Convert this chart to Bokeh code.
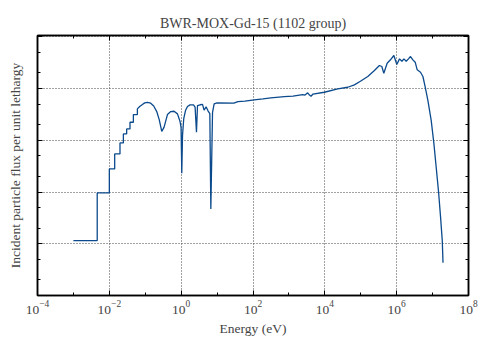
from bokeh.plotting import figure
from bokeh.models import Range1d, FixedTicker, LogAxis, CustomJSTickFormatter
from bokeh.embed import file_html
from bokeh.resources import INLINE

# ---- data (energy in eV, flux per unit lethargy, arbitrary units) ----
step_edges = [1.0e-3, 4.6e-3, 1.0e-2, 1.41e-2, 1.98e-2, 2.46e-2, 3.04e-2, 3.76e-2, 4.67e-2, 6.04e-2]
step_flux = [1.15e-3, 9.6e-3, 2.8e-2, 5.46e-2, 8.9e-2, 0.133, 0.166, 0.223, 0.314]

energy = [6.04e-2, 7.00e-2, 8.33e-2, 9.66e-2, 0.115, 0.142, 0.172, 0.209, 0.245, 0.288,
          0.333, 0.415, 0.513, 0.634, 0.789, 0.931, 0.993, 1.04, 1.09, 1.18,
          1.32, 1.50, 1.77, 2.20, 2.44, 2.67, 2.85, 3.37, 3.93, 4.35,
          4.95, 5.63, 6.28, 6.70, 7.47, 8.28, 10.0, 29.3, 37.9, 59.4,
          108, 189, 315, 741, 1297, 2416, 2805, 3334, 3740, 4121,
          4688, 9683, 22900, 43500, 66500, 97800, 1.57e5, 2.40e5, 3.31e5, 3.86e5,
          4.39e5, 5.43e5, 6.71e5, 8.35e5, 1.01e6, 1.20e6, 1.40e6, 1.59e6, 1.84e6, 2.13e6,
          2.43e6, 2.83e6, 3.28e6, 3.73e6, 4.61e6, 5.38e6, 6.24e6, 7.42e6, 9.17e6, 1.09e7,
          1.26e7, 1.47e7, 1.67e7, 1.86e7, 1.95e7, 2.0e7]
flux = [0.405, 0.449, 0.49, 0.529, 0.543, 0.520, 0.459, 0.359, 0.251, 0.149,
        0.178, 0.314, 0.359, 0.364, 0.324, 0.230, 0.178, 0.0230, 0.123, 0.263,
        0.375, 0.449, 0.484, 0.484, 0.439, 0.143, 0.469, 0.486, 0.495, 0.384,
        0.443, 0.367, 0.328, 0.00471, 0.348, 0.506, 0.529, 0.524, 0.561, 0.573,
        0.604, 0.632, 0.661, 0.700, 0.716, 0.766, 0.749, 0.826, 0.749, 0.710,
        0.783, 0.848, 0.987, 1.06, 1.18, 1.38, 1.71, 2.23, 2.79, 2.67,
        1.98, 3.09, 3.59, 4.35, 2.91, 3.75, 3.37, 3.75, 3.37, 3.75,
        4.16, 3.59, 3.23, 2.30, 2.07, 1.71, 1.06, 0.586, 0.240, 0.0851,
        0.0301, 0.00987, 0.00324, 0.00115, 4.37e-4, 4.37e-4]

x_major = [1e-4, 1e-2, 1e0, 1e2, 1e4, 1e6, 1e8]
x_minor = [1e-3, 1e-1, 1e1, 1e3, 1e5, 1e7]
y_major = [1e-4, 1e-3, 1e-2, 1e-1, 1e0, 1e1]
y_minor = [2e-4, 5e-4, 2e-3, 5e-3, 2e-2, 5e-2, 0.2, 0.5, 2, 5]

title_text = "BWR-MOX-Gd-15 (1102 group)"
x_label = "Energy (eV)"
y_label = "Incident particle flux per unit lethargy"

# build path: histogram steps at low energy, then the fine-group curve
xs, ys = [], []
for i, f in enumerate(step_flux):
    xs += [step_edges[i], step_edges[i + 1]]
    ys += [f, f]
xs += energy
ys += flux

FONT = "Liberation Serif"
FS = "13.5px"

p = figure(width=478, height=340, x_axis_type="log", y_axis_type="log",
           x_range=Range1d(1e-4, 1e8), y_range=Range1d(1e-4, 10.6),
           output_backend="svg", toolbar_location=None,
           min_border_left=37, min_border_right=10, min_border_top=35, min_border_bottom=45)

p.title.text = title_text
p.title.text_font = FONT
p.title.text_font_size = "14px"
p.title.text_font_style = "normal"
p.title.align = "center"

p.outline_line_color = "black"
p.outline_line_width = 1.5
p.background_fill_color = "white"
p.border_fill_color = "white"

empty = CustomJSTickFormatter(code="return ''")

xa = p.xaxis[0]
xa.ticker = FixedTicker(ticks=x_major, minor_ticks=x_minor)
ya = p.yaxis[0]
ya.ticker = FixedTicker(ticks=y_major, minor_ticks=y_minor)
ya.formatter = empty

for ax in (xa, ya):
    ax.major_tick_in = 5
    ax.major_tick_out = 0
    ax.minor_tick_in = 3
    ax.minor_tick_out = 0
    ax.axis_line_width = 1.5
    ax.major_tick_line_width = 1
    ax.minor_tick_line_width = 1
    ax.major_label_text_font = FONT
    ax.major_label_text_font_size = FS
    ax.axis_label_text_font = FONT
    ax.axis_label_text_font_size = FS
    ax.axis_label_text_font_style = "normal"

xa.axis_label = x_label
xa.major_label_standoff = 5
xa.axis_label_standoff = 4
ya.axis_label = y_label
ya.major_label_standoff = 0
ya.axis_label_standoff = 15

top = LogAxis(ticker=FixedTicker(ticks=x_major, minor_ticks=x_minor), formatter=empty,
              major_tick_in=5, major_tick_out=0, minor_tick_in=3, minor_tick_out=0,
              major_label_standoff=0, axis_line_width=1.5)
right = LogAxis(ticker=FixedTicker(ticks=y_major, minor_ticks=y_minor), formatter=empty,
                major_tick_in=5, major_tick_out=0, minor_tick_in=3, minor_tick_out=0,
                major_label_standoff=0, axis_line_width=1.5)
p.add_layout(top, "above")
p.add_layout(right, "right")

for g in (p.xgrid[0], p.ygrid[0]):
    g.grid_line_color = "#444444"
    g.grid_line_dash = "1 2"
    g.grid_line_width = 1

p.line(xs, ys, line_color="#0b4a8c", line_width=1.3)

open("out.html", "w").write(file_html(p, INLINE))
